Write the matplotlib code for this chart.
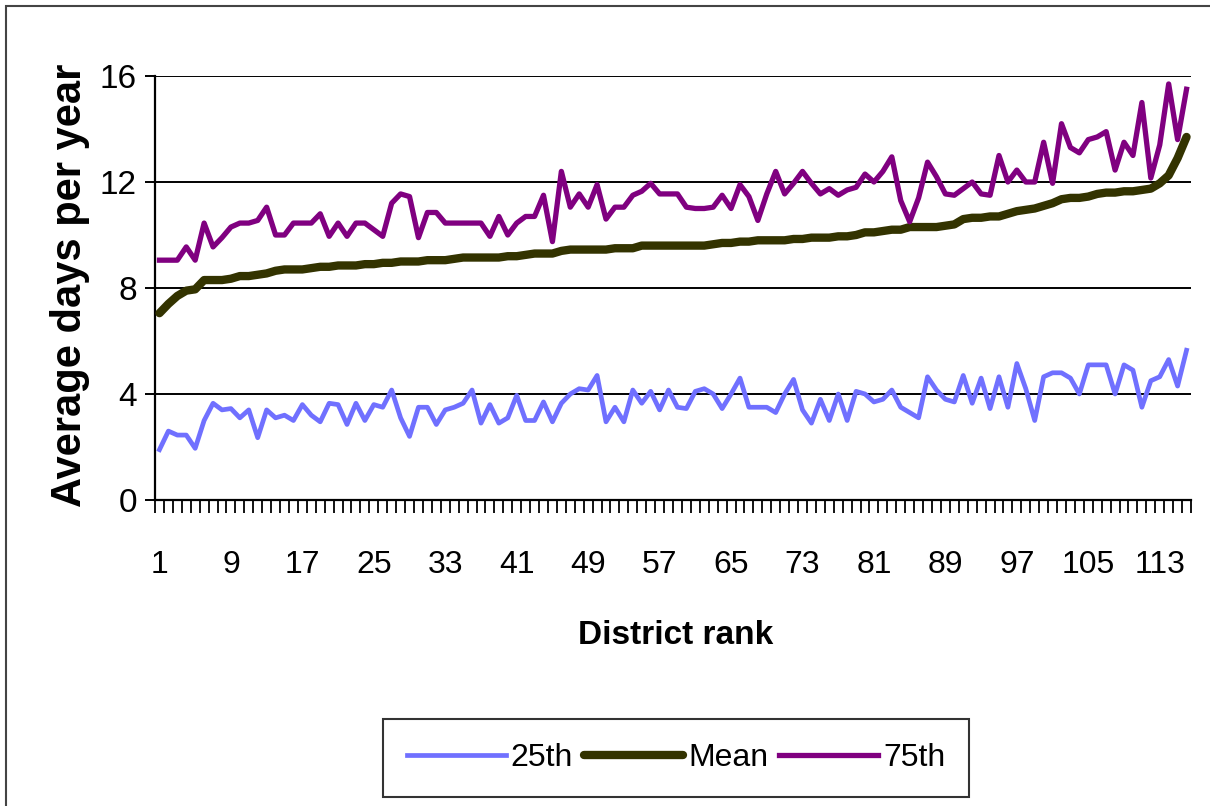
import matplotlib
matplotlib.use("Agg")
import matplotlib.pyplot as plt
from matplotlib.lines import Line2D
import numpy as np

# ---- data ----
p25 = [1.9, 2.6, 2.45, 2.45, 1.95, 3.0, 3.65, 3.4, 3.45, 3.1,
       3.4, 2.35, 3.4, 3.1, 3.2, 3.0, 3.6, 3.2, 2.95, 3.65,
       3.6, 2.85, 3.65, 3.0, 3.6, 3.5, 4.15, 3.1, 2.4, 3.5,
       3.5, 2.85, 3.4, 3.5, 3.65, 4.15, 2.9, 3.6, 2.9, 3.1,
       3.95, 3.0, 3.0, 3.7, 2.95, 3.65, 4.0, 4.2, 4.15, 4.7,
       2.95, 3.5, 2.95, 4.15, 3.65, 4.1, 3.4, 4.15, 3.5, 3.45,
       4.1, 4.2, 4.0, 3.45, 4.0, 4.6, 3.5, 3.5, 3.5, 3.3,
       4.0, 4.55, 3.4, 2.9, 3.8, 3.0, 4.0, 3.0, 4.1, 4.0,
       3.7, 3.8, 4.15, 3.5, 3.3, 3.1, 4.65, 4.15, 3.8, 3.7,
       4.7, 3.65, 4.6, 3.45, 4.65, 3.5, 5.15, 4.2, 3.0, 4.65,
       4.8, 4.8, 4.6, 4.0, 5.1, 5.1, 5.1, 4.0, 5.1, 4.9,
       3.5, 4.5, 4.65, 5.3, 4.3, 5.65]

mean = [7.05, 7.4, 7.7, 7.9, 7.95, 8.3, 8.3, 8.3, 8.35, 8.45,
        8.45, 8.5, 8.55, 8.65, 8.7, 8.7, 8.7, 8.75, 8.8, 8.8,
        8.85, 8.85, 8.85, 8.9, 8.9, 8.95, 8.95, 9.0, 9.0, 9.0,
        9.05, 9.05, 9.05, 9.1, 9.15, 9.15, 9.15, 9.15, 9.15, 9.2,
        9.2, 9.25, 9.3, 9.3, 9.3, 9.4, 9.45, 9.45, 9.45, 9.45,
        9.45, 9.5, 9.5, 9.5, 9.6, 9.6, 9.6, 9.6, 9.6, 9.6,
        9.6, 9.6, 9.65, 9.7, 9.7, 9.75, 9.75, 9.8, 9.8, 9.8,
        9.8, 9.85, 9.85, 9.9, 9.9, 9.9, 9.95, 9.95, 10.0, 10.1,
        10.1, 10.15, 10.2, 10.2, 10.3, 10.3, 10.3, 10.3, 10.35, 10.4,
        10.6, 10.65, 10.65, 10.7, 10.7, 10.8, 10.9, 10.95, 11.0, 11.1,
        11.2, 11.35, 11.4, 11.4, 11.45, 11.55, 11.6, 11.6, 11.65, 11.65,
        11.7, 11.75, 11.95, 12.25, 12.9, 13.7]

p75 = [9.05, 9.05, 9.05, 9.55, 9.05, 10.45, 9.55, 9.9, 10.3, 10.45,
       10.45, 10.55, 11.05, 10.0, 10.0, 10.45, 10.45, 10.45, 10.8, 9.95,
       10.45, 9.95, 10.45, 10.45, 10.2, 9.95, 11.2, 11.55, 11.45, 9.9,
       10.85, 10.85, 10.45, 10.45, 10.45, 10.45, 10.45, 9.95, 10.7, 10.0,
       10.45, 10.7, 10.7, 11.5, 9.75, 12.4, 11.05, 11.55, 11.05, 11.9,
       10.6, 11.05, 11.05, 11.5, 11.65, 11.95, 11.55, 11.55, 11.55, 11.05,
       11.0, 11.0, 11.05, 11.5, 11.0, 11.9, 11.45, 10.55, 11.55, 12.4,
       11.55, 11.95, 12.4, 11.95, 11.55, 11.75, 11.5, 11.7, 11.8, 12.3,
       12.0, 12.4, 12.95, 11.3, 10.5, 11.4, 12.75, 12.2, 11.55, 11.5,
       11.75, 12.0, 11.55, 11.5, 13.0, 12.0, 12.45, 12.0, 12.0, 13.5,
       11.95, 14.2, 13.3, 13.1, 13.6, 13.7, 13.9, 12.45, 13.5, 13.0,
       15.0, 12.15, 13.4, 15.7, 13.6, 15.5]

ranks = list(range(1, len(mean) + 1))
tick_labels = [1, 9, 17, 25, 33, 41, 49, 57, 65, 73, 81, 89, 97, 105, 113]
yticks = [0, 4, 8, 12, 16]

plt.rcParams["font.family"] = ["Liberation Sans", "DejaVu Sans"]

fig = plt.figure(figsize=(12.10, 8.06), dpi=100)
W, H = 1210, 806
ax = fig.add_axes([155 / W, 1 - 500 / H, (1191 - 155) / W, (500 - 76) / H])

c25, cmean, c75 = "#7070ff", "#333300", "#800080"
ax.plot(ranks, p25, color=c25, lw=3.4, solid_joinstyle="round", zorder=3)
ax.plot(ranks, mean, color=cmean, lw=6.0, solid_capstyle="round", solid_joinstyle="round", zorder=4)
ax.plot(ranks, p75, color=c75, lw=3.8, solid_joinstyle="round", zorder=5)

ax.set_xlim(0.5, len(ranks) + 0.5)
ax.set_ylim(0, 16)
ax.set_yticks(yticks)
ax.set_yticklabels([str(v) for v in yticks], fontsize=24)
ax.yaxis.grid(True, color="black", lw=1.4)
ax.set_axisbelow(True)

ax.set_xticks(tick_labels)
ax.set_xticklabels([str(v) for v in tick_labels], fontsize=23)
ax.set_xticks(np.arange(0.5, len(ranks) + 1, 1.0), minor=True)
ax.tick_params(axis="x", which="major", length=0, pad=36)
ax.tick_params(axis="x", which="minor", length=9, width=1.3, direction="out", color="black")
ax.tick_params(axis="y", which="major", length=7, width=1.4, pad=6, direction="out")

for s in ("top", "right"):
    ax.spines[s].set_visible(False)
for s in ("left", "bottom"):
    ax.spines[s].set_linewidth(1.6)
    ax.spines[s].set_color("black")

ax.set_ylabel("Average days per year", fontsize=30, fontweight="bold")
ax.yaxis.set_label_coords((70 - 155) / (1191 - 155), (500 - 285) / (500 - 76))
ax.set_xlabel("District rank", fontsize=24, fontweight="bold")
ax.xaxis.set_label_coords((676 - 155) / (1191 - 155), -(636 - 500) / (500 - 76))
ax.xaxis.label.set_va("center")
ax.yaxis.label.set_va("center")

handles = [Line2D([], [], color=c25, lw=3.4),
           Line2D([], [], color=cmean, lw=6.0, solid_capstyle="round"),
           Line2D([], [], color=c75, lw=3.8)]
leg = fig.legend(handles, ["25th", "Mean", "75th"], loc="center",
                 bbox_to_anchor=(676 / W, 1 - 758 / H), ncol=3, fontsize=23,
                 frameon=True, fancybox=False, edgecolor="black",
                 handlelength=3.1, handletextpad=0.15, columnspacing=0.35,
                 borderpad=0.75, borderaxespad=0)
leg.get_frame().set_linewidth(1.5)

# outer chart-area border
fig.patches.append(plt.Rectangle((6 / W, -0.05), 1.2, 1 - 6 / H + 0.05,
                                 transform=fig.transFigure, fill=False,
                                 edgecolor="#444444", lw=1.5))

fig.savefig("out.png", dpi=100)
